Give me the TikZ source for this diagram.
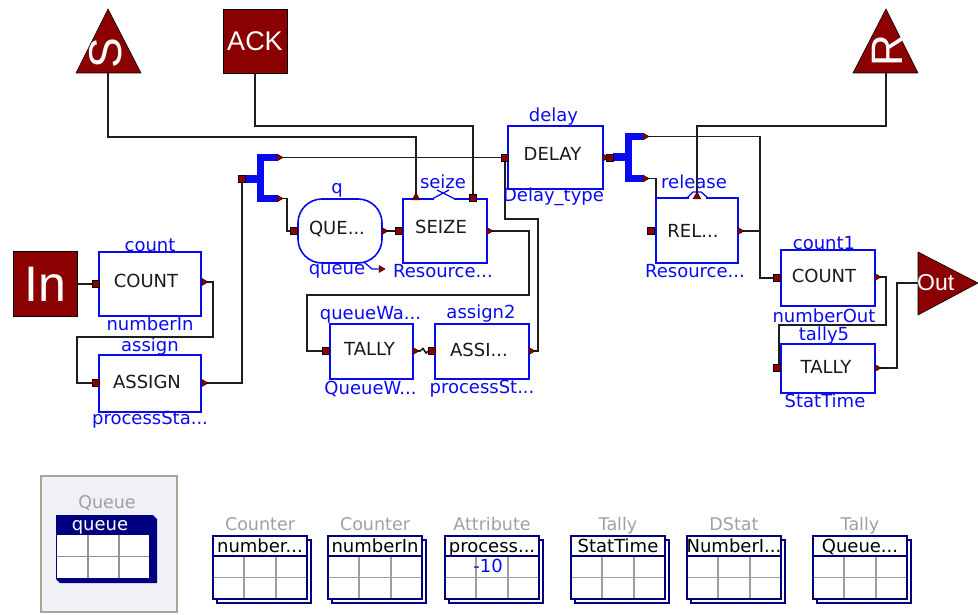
\documentclass[tikz,border=0pt]{standalone}
\usepackage{fontspec}
\setmainfont{DejaVu Sans}
\newfontfamily\libsans{Liberation Sans}
\usetikzlibrary{calc}
\definecolor{dred}{HTML}{8B0000}
\definecolor{navyc}{HTML}{000080}
\definecolor{wirec}{HTML}{1E1E1E}
\definecolor{lblue}{HTML}{0A0AF0}
\definecolor{panelbg}{HTML}{F0F0F6}
\definecolor{bevel}{HTML}{A8A496}
\definecolor{glabel}{HTML}{A0A0A0}
\newcommand{\fblk}{\fontsize{18}{20}\selectfont}
\newcommand{\flbl}{\fontsize{18}{20}\selectfont}
\newcommand{\tdots}{...}
\tikzset{
  blk/.style={draw=lblue, line width=1.6pt, fill=white, inner sep=0pt},
  blktxt/.style={text=black!90, font=\fblk, inner sep=0pt},
  lbl/.style={text=lblue, font=\flbl, anchor=base, inner sep=0pt},
  wire/.style={draw=wirec, line width=1.6pt},
  insq/.style={fill=dred, draw=black, line width=0.5pt, minimum size=7pt, inner sep=0pt},
  otri/.pic={\filldraw[fill=dred, draw=black, line width=0.4pt] (0,-3.5) -- (6,0) -- (0,3.5) -- cycle;},
  utri/.pic={\filldraw[fill=dred, draw=black, line width=0.4pt] (-4,3) -- (0,-4) -- (4,3) -- cycle;},
  fork/.style={fill=lblue},
  gl/.style={text=glabel, font=\fontsize{17.5}{19}\selectfont, anchor=base, inner sep=0pt},
  hdr/.style={text=black, font=\fblk, anchor=base, inner sep=0pt},
}
\begin{document}
\begin{tikzpicture}[x=1pt,y=-1pt]
\useasboundingbox (0,0) rectangle (978,615);

% ---------- sources / sinks ----------
\filldraw[fill=dred, draw=black, line width=0.6pt] (108,9) -- (141,73) -- (76,73) -- cycle;
\begin{scope}
  \clip (108,9) -- (141,73) -- (76,73) -- cycle;
  \node[text=white, rotate=90, font=\libsans\fontsize{46}{46}\selectfont, inner sep=0pt] (sglyph) at (106,53) {S};
\end{scope}
\coordinate (sBase) at (108,73);

\node[draw=black, fill=dred, line width=0.6pt, minimum size=64pt, inner sep=0pt,
      text=white, font=\libsans\fontsize{27}{27}\selectfont] (ack) at (255,41) {ACK};

\filldraw[fill=dred, draw=black, line width=0.6pt] (886,9) -- (918,73) -- (853,73) -- cycle;
\begin{scope}
  \clip (886,9) -- (918,73) -- (853,73) -- cycle;
  \node[text=white, rotate=90, font=\libsans\fontsize{44}{44}\selectfont, inner sep=0pt] (rglyph) at (887,51) {R};
\end{scope}
\coordinate (rBase) at (886,73);

\node[draw=black, fill=dred, line width=0.6pt, minimum width=64pt, minimum height=65pt, inner sep=0pt,
      text=white, font=\libsans\fontsize{50}{50}\selectfont] (inbox) at (45,284) {In};

\filldraw[fill=dred, draw=black, line width=0.6pt] (918,252) -- (978,283) -- (918,315) -- cycle;
\coordinate (outTip) at (918,283);
\node[text=white, font=\libsans\fontsize{23}{23}\selectfont, anchor=west, inner sep=0pt] (outtxt) at (917,283) {Out};

% ---------- port coordinates ----------
\coordinate (countOut) at (202,282);
\coordinate (assignOut) at (202,383);
\coordinate (lfT) at (277,157.5);
\coordinate (lfB) at (277,198.5);
\coordinate (queueOut) at (382,231);
\coordinate (seizeOut) at (487,231);
\coordinate (seizeTL) at (416,197);
\coordinate (delayOut) at (603,157.5);
\coordinate (rfT) at (643,136.5);
\coordinate (rfB) at (643,178.5);
\coordinate (relOut) at (738,231);
\coordinate (relTop) at (697,196);
\coordinate (tallyOut) at (413,351);
\coordinate (assiOut) at (529,351);
\coordinate (count1Out) at (875,277);
\coordinate (tally5Out) at (875,368);

\node[insq] (countIn) at (96,284) {};
\node[insq] (assignIn) at (96,383) {};
\node[insq] (lfIn) at (242,179) {};
\node[insq] (queueIn) at (294,231) {};
\node[insq] (seizeIn) at (399,231) {};
\node[insq] (seizeTR) at (473,198) {};
\node[insq] (delayIn) at (505,158) {};
\node[insq] (rfIn) at (610,157.5) {};
\node[insq] (relIn) at (651,231) {};
\node[insq] (tallyIn) at (326,351) {};
\node[insq] (assiIn) at (432,351) {};
\node[insq] (count1In) at (777,278) {};
\node[insq] (tally5In) at (777,368) {};

% ---------- wires ----------
\draw[wire] (sBase) -- (108,137) -| (seizeTL);
\draw[wire] (ack.south) -- (255,126) -| (seizeTR.north);
\draw[wire] (rBase) -- (886,126) -| (relTop);
\draw[wire] (inbox.east) -- (countIn.west);
\draw[wire] (countOut) -- (213,282) |- (77,337) |- (assignIn.west);
\draw[wire] (assignOut) -| (lfIn.south);
\draw[wire] (lfT) -- (delayIn.west |- lfT);
\draw[wire] (lfB) -- (287,198.5) |- (queueIn.west);
\draw[wire] (queueOut) -- (seizeIn.west);
\draw[wire] (seizeOut) -- (529,231) |- (307,295) |- (tallyIn.west);
\draw[wire] (tallyOut) -- (420,351) -- (423,348.5) -- (426,353) -- (428.5,351) -- (assiIn.west);
\draw[wire] (assiOut) -- (538,351) |- (505,219) -- (delayIn.south);
\draw[wire] (rfT) -- (760,136.5) |- (count1In.west);
\draw[wire] (rfB) -| (656,231) -- (relIn.east);
\draw[wire] (relOut) -- (760,231);
\draw[wire] (count1Out) -- (886,277) |- (779,325) -- (tally5In.north -| 779,0);
\draw[wire] (tally5Out) -- (897,368) |- (outTip);

% ---------- blocks ----------
\node[blk, minimum width=102pt, minimum height=64pt] (count) at (150,284) {};
\node[blk, minimum width=102pt, minimum height=57pt] (assign) at (150,383.5) {};
\node[blk, rounded corners=24pt, minimum width=84pt, minimum height=64pt] (queue) at (340,231) {};
\node[blk, minimum width=84pt, minimum height=64pt] (seize) at (445,231) {};
\node[blk, minimum width=95pt, minimum height=63pt] (delay) at (555.5,157.5) {};
\node[blk, minimum width=82pt, minimum height=65pt] (release) at (697,230.5) {};
\node[blk, minimum width=83pt, minimum height=55pt] (tally) at (371.5,351.5) {};
\node[blk, minimum width=94pt, minimum height=55pt] (assi) at (482,351.5) {};
\node[blk, minimum width=94pt, minimum height=56pt] (count1) at (828,278) {};
\node[blk, minimum width=94pt, minimum height=49pt] (tally5) at (828,368.5) {};

% bumps on the resource edges
\draw[white, line width=2.4pt] (434,199) -- (454,199);
\draw[lblue, line width=1.3pt] (432,199) -- (449,190) (437,190) -- (455,199);
\draw[white, line width=2.4pt] (689,198) -- (706,198);
\draw[lblue, line width=1.3pt] (687,198) -- (693,192) -- (701,192) -- (708,198);

% block texts
\node[blktxt] (countT) at ($(count.center)+(-4,-3)$) {COUNT};
\node[blktxt] (assignT) at ($(assign.center)+(-3,-2)$) {ASSIGN};
\node[blktxt] (queueT) at ($(queue.center)+(-3,-2)$) {QUE...};
\node[blktxt] (seizeT) at ($(seize.center)+(-4,-4)$) {SEIZE};
\node[blktxt] (delayT) at ($(delay.center)+(-3,-4)$) {DELAY};
\node[blktxt] (releaseT) at ($(release.center)+(-4,0)$) {REL...};
\node[blktxt] (tallyT) at ($(tally.center)+(-2,-3)$) {TALLY};
\node[blktxt] (assiT) at ($(assi.center)+(-3,-2)$) {ASSI...};
\node[blktxt] (count1T) at ($(count1.center)+(-4,-2)$) {COUNT};
\node[blktxt] (tally5T) at ($(tally5.center)+(-2,-2)$) {TALLY};

% block labels
\node[lbl] (countA) at ([yshift=0pt]count.north) {count};
\node[lbl] (countB) at ([yshift=-14pt]count.south) {numberIn};
\node[lbl] (assignA) at ([yshift=3pt]assign.north) {assign};
\node[lbl] (assignB) at ([yshift=-12pt]assign.south) {processSta...};
\node[lbl] (queueA) at ([xshift=-3pt,yshift=5pt]queue.north) {q};
\node[lbl] (queueB) at ([xshift=-3pt,yshift=-11pt]queue.south) {queue};
\node[lbl] (seizeA) at ([xshift=-2pt,yshift=10pt]seize.north) {seize};
\node[lbl] (seizeB) at ([xshift=-2pt,yshift=-14pt]seize.south) {Resource...};
\node[lbl] (delayA) at ([xshift=-2pt,yshift=4pt]delay.north) {delay};
\node[lbl] (delayB) at ([xshift=-2pt,yshift=-12pt]delay.south) {Delay\_type};
\node[lbl] (releaseA) at ([xshift=-3pt,yshift=9pt]release.north) {release};
\node[lbl] (releaseB) at ([xshift=-2pt,yshift=-14pt]release.south) {Resource...};
\node[lbl] (tallyA) at ([xshift=-1pt,yshift=4pt]tally.north) {queueWa...};
\node[lbl] (tallyB) at ([xshift=-1pt,yshift=-15pt]tally.south) {QueueW...};
\node[lbl] (assiA) at ([xshift=-1pt,yshift=5pt]assi.north) {assign2};
\node[lbl] (assiB) at ([xshift=0pt,yshift=-14pt]assi.south) {processSt...};
\node[lbl] (count1A) at ([xshift=-4pt,yshift=0pt]count1.north) {count1};
\node[lbl] (count1B) at ([xshift=-4pt,yshift=-16pt]count1.south) {numberOut};
\node[lbl] (tally5A) at ([xshift=-4pt,yshift=3pt]tally5.north) {tally5};
\node[lbl] (tally5B) at ([xshift=-3pt,yshift=-14pt]tally5.south) {StatTime};

% queue -> resource small arrow
\draw[lblue, line width=1.3pt] (364,262) -- (372,269) -- (380,269);
\filldraw[fill=dred, draw=black, line width=0.4pt] (379,265.5) -- (385,269) -- (379,272.5) -- cycle;

% ---------- forks ----------
\fill[fork] (246,175) rectangle (260,183);
\fill[fork] (257,154) rectangle (264,202);
\fill[fork] (257,154) rectangle (277,161);
\fill[fork] (257,195) rectangle (277,202);
\fill[fork] (613,153.5) rectangle (627,161.5);
\fill[fork] (625,133) rectangle (632,182);
\fill[fork] (625,133) rectangle (643,140);
\fill[fork] (625,175) rectangle (643,182);

% ---------- ports on top ----------
\foreach \n in {countIn,assignIn,lfIn,queueIn,seizeIn,seizeTR,delayIn,rfIn,relIn,tallyIn,assiIn,count1In,tally5In}
  \node[insq] at (\n) {};
\foreach \c in {countOut,assignOut,lfT,lfB,queueOut,seizeOut,delayOut,rfT,rfB,relOut,tallyOut,assiOut,count1Out,tally5Out}
  \pic at (\c) {otri};
\pic at (seizeTL) {utri};
\pic at (relTop) {utri};

% ---------- bottom: data tables ----------
\draw[fill=panelbg, draw=bevel, line width=2.5pt] (41,476) rectangle (177,612);
\node[gl] (qpanelLbl) at (107,508) {Queue};
\fill[navyc] (56,515) -- (153,515) -- (157,519) -- (157,583) -- (60,583) -- (56,579) -- cycle;
\fill[white] (57,535) rectangle (149,578);
\draw[gray!85, line width=1.2pt] (88,535) -- (88,578) (119,535) -- (119,578) (57,556.5) -- (149,556.5);
\node[anchor=base, text=white, font=\fblk, inner sep=0pt] (qhdr) at (100,530) {queue};

\foreach \x/\t/\h [count=\i] in {213/Counter/number\tdots,328/Counter/numberIn,445/Attribute/process\tdots,571/Tally/StatTime,687/DStat/NumberI\tdots,813/Tally/Queue\tdots}{
  \draw[navyc, fill=white, line width=1.2pt] (\x+4,540) rectangle (\x+98,603);
  \draw[navyc, fill=white, line width=1.5pt] (\x,536) rectangle (\x+94,599);
  \draw[gray!75, line width=1.2pt] (\x+31,556) -- (\x+31,599) (\x+63,556) -- (\x+63,599) (\x,577.5) -- (\x+94,577.5);
  \draw[navyc, line width=1.5pt] (\x,556) -- (\x+94,556);
  \draw[navyc, line width=1.5pt] (\x,536) rectangle (\x+94,599);
  \node[hdr] (hdr\i) at (\x+47,552) {\h};
  \node[gl] (typ\i) at (\x+47,530) {\t};
}
\node[anchor=base, text=lblue, font=\fblk, inner sep=0pt] (attrval) at (488,572) {-10};
\end{tikzpicture}
\end{document}
